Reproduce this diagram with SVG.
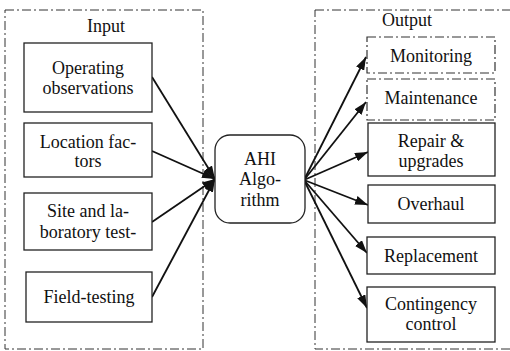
<svg xmlns="http://www.w3.org/2000/svg" width="510" height="351" viewBox="0 0 510 351">
<style>
text{font-family:"Liberation Serif","DejaVu Serif",serif;font-size:18px;fill:#111;text-anchor:middle}
.box{fill:#fff;stroke:#222;stroke-width:1.3}
.dd{fill:none;stroke:#333;stroke-width:1;stroke-dasharray:9 3 2 3}
.ddb{fill:#fff;stroke:#333;stroke-width:1.2;stroke-dasharray:9 3 2 3}
.c{stroke:#111;stroke-width:1.8;fill:none}
</style>
<defs>
<marker id="ah" viewBox="0 0 13 9" refX="13" refY="4.5" markerWidth="13" markerHeight="9" markerUnits="userSpaceOnUse" orient="auto">
<path d="M0,0 L13,4.5 L0,9 Z" fill="#111"/>
</marker>
</defs>
<rect fill="#fff" width="510" height="351"/>
<g id="input-group">
<rect class="dd" x="5" y="10" width="198" height="339"/>
<text x="106" y="32">Input</text>
</g>
<g id="output-group">
<rect class="dd" x="315" y="10" width="200" height="339"/>
<text x="407" y="26">Output</text>
</g>
<g id="connectors">
<line class="c" x1="152" y1="77" x2="215" y2="179" marker-end="url(#ah)"/>
<line class="c" x1="152" y1="151" x2="215" y2="179" marker-end="url(#ah)"/>
<line class="c" x1="152" y1="222" x2="215" y2="179" marker-end="url(#ah)"/>
<line class="c" x1="152" y1="297" x2="215" y2="179" marker-end="url(#ah)"/>
<line class="c" x1="304" y1="180" x2="366" y2="57" marker-end="url(#ah)"/>
<line class="c" x1="304" y1="180" x2="366" y2="102" marker-end="url(#ah)"/>
<line class="c" x1="304" y1="180" x2="368" y2="152" marker-end="url(#ah)"/>
<line class="c" x1="304" y1="180" x2="368" y2="205" marker-end="url(#ah)"/>
<line class="c" x1="304" y1="180" x2="367" y2="253" marker-end="url(#ah)"/>
<line class="c" x1="304" y1="180" x2="367" y2="308" marker-end="url(#ah)"/>
</g>
<g id="operating">
<rect class="box" x="24" y="43" width="128" height="69"/>
<text x="88" y="74">Operating</text>
<text x="88" y="94">observations</text>
</g>
<g id="location">
<rect class="box" x="24" y="123" width="128" height="54"/>
<text x="88" y="148">Location fac-</text>
<text x="88" y="167">tors</text>
</g>
<g id="site">
<rect class="box" x="24" y="193" width="128" height="57"/>
<text x="88" y="217">Site and la-</text>
<text x="88" y="238">boratory test-</text>
</g>
<g id="field">
<rect class="box" x="26" y="272" width="126" height="50"/>
<text x="89" y="303">Field-testing</text>
</g>
<g id="ahi">
<rect class="box" x="215" y="135" width="90" height="88" rx="15"/>
<text x="260" y="165">AHI</text>
<text x="260" y="185">Algo-</text>
<text x="260" y="206">rithm</text>
</g>
<g id="monitoring">
<rect class="ddb" x="367" y="37" width="128" height="36"/>
<text x="431" y="62">Monitoring</text>
</g>
<g id="maintenance">
<rect class="ddb" x="367" y="79" width="128" height="41"/>
<text x="431" y="104">Maintenance</text>
</g>
<g id="repair">
<rect class="box" x="368" y="123" width="127" height="53"/>
<text x="431" y="147">Repair &amp;</text>
<text x="431" y="167">upgrades</text>
</g>
<g id="overhaul">
<rect class="box" x="368" y="185" width="127" height="38"/>
<text x="431" y="210">Overhaul</text>
</g>
<g id="replacement">
<rect class="box" x="367" y="237" width="128" height="37"/>
<text x="431" y="262">Replacement</text>
</g>
<g id="contingency">
<rect class="box" x="367" y="287" width="128" height="55"/>
<text x="431" y="310">Contingency</text>
<text x="431" y="330">control</text>
</g>
</svg>
